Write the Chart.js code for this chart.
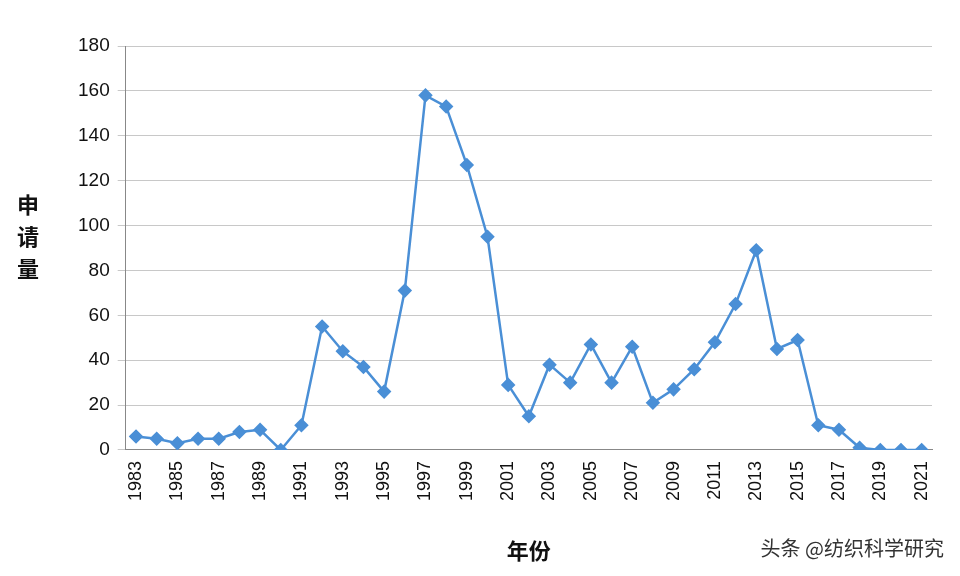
<!DOCTYPE html>
<html><head><meta charset="utf-8">
<script src="https://cdn.jsdelivr.net/npm/chart.js@4"></script>
<style>html,body{margin:0;background:#fff}#w{width:960px;height:576px}</style>
</head><body><div id="w"><canvas id="c"></canvas></div>
<script>
const years=[];for(let y=1983;y<=2021;y++)years.push(String(y));
const values=[6,5,3,5,5,8,9,0,11,55,44,37,26,71,158,153,127,95,29,15,38,30,47,30,46,21,27,36,48,65,89,45,49,11,9,1,0,0,0];
const yTicks=[0,20,40,60,80,100,120,140,160,180];
const yTitle="申请量", xTitle="年份", mark="头条 @纺织科学研究";
const deco={id:'deco',afterDraw(ch){const x=ch.ctx;x.save();x.fillStyle='#111';
x.font='bold 22px "Noto Sans CJK SC"';x.textAlign='center';x.textBaseline='middle';
[...yTitle].forEach((c,i)=>x.fillText(c,28,205+i*32));
x.fillText(xTitle,(ch.chartArea.left+ch.chartArea.right)/2,551);
x.font='20px "Noto Sans CJK SC"';x.fillStyle='#333';x.textAlign='right';x.fillText(mark,944,548);x.restore();}};
new Chart(document.getElementById('c'),{type:'line',
data:{labels:years,datasets:[{data:values,borderColor:'#4a8fd6',backgroundColor:'#4a8fd6',borderWidth:2.5,
pointStyle:'rectRot',pointRadius:5.5,pointHoverRadius:5.5,tension:0}]},
options:{responsive:true,maintainAspectRatio:false,animation:false,
layout:{padding:{left:70,right:28,top:46,bottom:72}},
plugins:{legend:{display:false},tooltip:{enabled:false}},
scales:{x:{offset:true,grid:{display:false,drawTicks:true},border:{color:'#888'},
ticks:{autoSkip:false,minRotation:90,maxRotation:90,color:'#111',font:{size:18,family:'"Liberation Sans"'},
callback:(v,i)=>i%2===0?years[i]:''}},
y:{min:0,max:180,afterBuildTicks:s=>{s.ticks=yTicks.map(v=>({value:v}))},
grid:{color:'#c8c8c8'},border:{color:'#888'},
ticks:{color:'#111',font:{size:19,family:'"Liberation Sans"'},padding:8}}}},
plugins:[deco]});
</script></body></html>
